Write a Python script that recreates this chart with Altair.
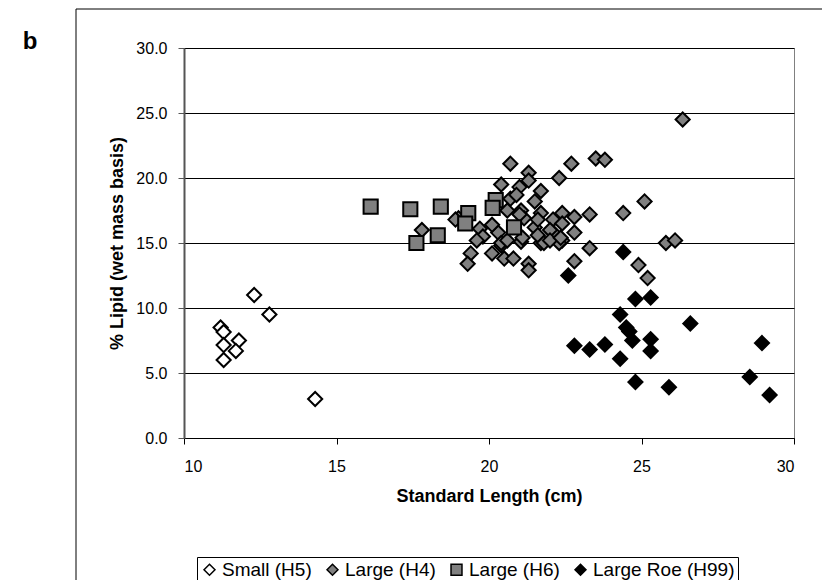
import altair as alt
import pandas as pd

SERIES = ["Small (H5)", "Large (H4)", "Large (H6)", "Large Roe (H99)"]

h5_x = [12.3, 12.8, 11.2, 11.3, 11.8, 11.3, 11.7, 11.3, 14.3]
h5_y = [11.0, 9.5, 8.5, 8.15, 7.5, 7.15, 6.7, 6.0, 3.0]

h4_x = [26.35, 23.5, 23.8, 22.7, 20.7, 22.3, 21.3, 21.3, 20.4, 21.0,
        21.7, 20.7, 20.9, 21.5, 25.1, 24.4, 23.3, 22.8, 22.4, 22.1,
        21.7, 21.05, 21.15, 21.5, 19.0, 17.8, 19.7, 19.8, 19.6, 20.3,
        20.1, 20.4, 20.1, 20.5, 20.8, 19.4, 19.3, 21.3, 21.3, 21.05,
        22.1, 21.7, 21.6, 22.8, 22.4, 22.3, 21.8, 25.8, 26.1, 23.3,
        22.8, 24.9, 25.2, 21.1, 20.4, 18.9, 22.0, 22.0, 20.6, 21.6,
        21.0, 20.6, 22.4, 22.35]
h4_y = [24.5, 21.5, 21.4, 21.1, 21.1, 20.0, 20.4, 19.8, 19.5, 19.3,
        19.0, 18.4, 18.7, 18.2, 18.2, 17.3, 17.2, 17.0, 17.3, 16.8,
        17.3, 17.5, 16.9, 16.2, 16.9, 16.0, 16.1, 15.5, 15.2, 15.8,
        16.4, 14.8, 14.2, 13.8, 13.8, 14.2, 13.4, 13.4, 12.9, 15.1,
        15.8, 15.0, 15.6, 15.8, 15.2, 15.0, 15.0, 15.0, 15.2, 14.6,
        13.6, 13.3, 12.3, 15.4, 15.0, 16.8, 16.0, 15.2, 15.2, 16.8,
        17.2, 17.5, 16.5, 15.4]

h6_x = [16.12, 17.42, 18.42, 17.62, 18.32, 19.32, 19.22, 20.22, 20.12, 20.82]
h6_y = [17.8, 17.6, 17.8, 15.0, 15.6, 17.3, 16.5, 18.3, 17.7, 16.2]

h99_x = [24.4, 22.6, 24.8, 25.3, 24.3, 26.6, 24.5, 24.6, 24.7, 25.3,
         25.3, 23.8, 23.3, 22.8, 24.3, 24.8, 25.9, 28.55, 28.95, 29.2]
h99_y = [14.3, 12.5, 10.7, 10.8, 9.5, 8.8, 8.5, 8.2, 7.5, 7.6,
         6.7, 7.2, 6.8, 7.1, 6.1, 4.3, 3.9, 4.7, 7.3, 3.3]

rows = []
for name, xs, ys in zip(SERIES, [h5_x, h4_x, h6_x, h99_x], [h5_y, h4_y, h6_y, h99_y]):
    for a, b in zip(xs, ys):
        rows.append({"series": name, "length": a, "lipid": b})
df = pd.DataFrame(rows)

FONT = "Liberation Sans"

legend_def = alt.Legend(title=None)

points = alt.Chart(df).mark_point(filled=True, opacity=1, size=200,
                                  strokeWidth=2).encode(
    x=alt.X("length:Q", scale=alt.Scale(domain=[10, 30], nice=False),
            axis=alt.Axis(values=[10, 15, 20, 25, 30], title="Standard Length (cm)",
                          grid=False, tickSize=6, labelPadding=14, titlePadding=13,
                          domainColor="black", tickColor="black")),
    y=alt.Y("lipid:Q", scale=alt.Scale(domain=[0, 30], nice=False),
            axis=alt.Axis(values=[0, 5, 10, 15, 20, 25, 30], format=".1f",
                          title="% Lipid (wet mass basis)", grid=True,
                          gridColor="black", gridWidth=1,
                          tickSize=6, labelPadding=11, titlePadding=9,
                          domainColor="#555555", domainWidth=2, tickColor="#555555")),
    fill=alt.Fill("series:N", scale=alt.Scale(domain=SERIES,
                  range=["white", "#808080", "#808080", "black"]),
                  legend=legend_def),
    shape=alt.Shape("series:N", scale=alt.Scale(domain=SERIES,
                    range=["diamond", "diamond", "square", "diamond"]),
                    legend=legend_def),
    stroke=alt.Stroke("series:N", scale=alt.Scale(domain=SERIES,
                      range=["black", "black", "black", "black"]),
                      legend=legend_def),
)

blank = alt.Data(values=[{}])
frame_left = alt.Chart(blank).mark_rule(color="black", strokeWidth=1).encode(
    x=alt.value(-108), y=alt.value(-39), y2=alt.value(540))
frame_top = alt.Chart(blank).mark_rule(color="black", strokeWidth=1).encode(
    x=alt.value(-108), x2=alt.value(650), y=alt.value(-39))
label_b = alt.Chart(blank).mark_text(font=FONT, fontSize=24, fontWeight="bold",
                                     align="center", baseline="middle").encode(
    x=alt.value(-154), y=alt.value(-6), text=alt.value("b"))

chart = alt.layer(frame_left, frame_top, label_b, points).properties(
    width=610, height=390,
    autosize=alt.AutoSizeParams(type="none"),
    padding={"left": 176, "top": 40, "right": 28, "bottom": 142},
).configure_view(
    stroke="#808080", strokeWidth=1
).configure_axis(
    labelFont=FONT, titleFont=FONT, labelFontSize=16, titleFontSize=18,
    labelColor="black", titleColor="black", titleFontWeight="bold"
).configure_legend(
    orient="none", legendX=13, legendY=509, direction="horizontal", columns=4,
    strokeColor="black", strokeWidth=1, padding=3, fillColor="white",
    labelFont=FONT, labelFontSize=19, labelColor="black",
    symbolSize=120, symbolStrokeWidth=1.5,
    columnPadding=11, labelOffset=3
)

chart.save("out.html", embed_options={"renderer": "svg", "actions": False})
